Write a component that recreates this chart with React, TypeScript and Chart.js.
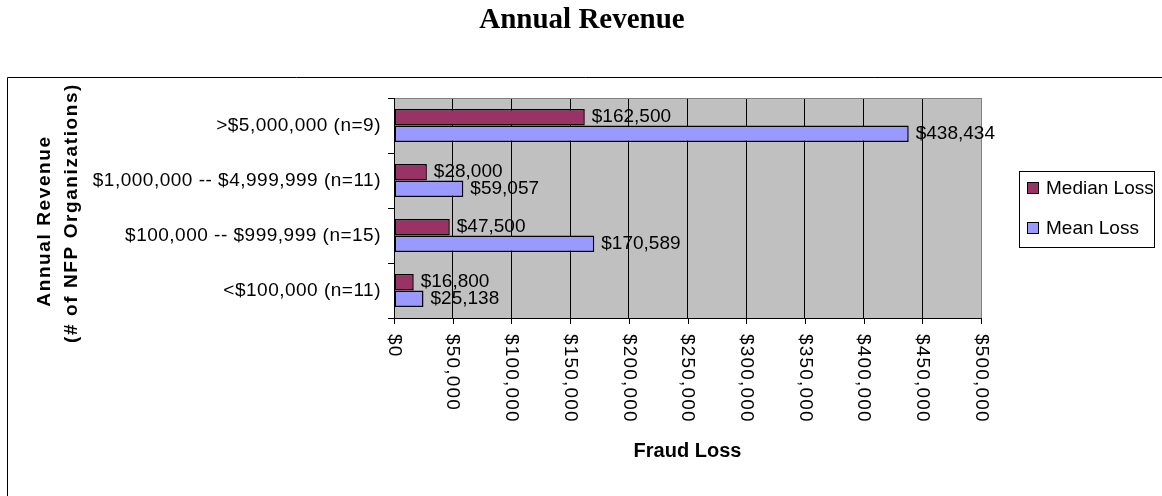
import { useEffect, useRef } from "react";
import { Chart, registerables } from "chart.js";

Chart.register(...registerables);

const chartTitle = "Annual Revenue";
const yTitleLines = ["Annual Revenue", "(# of NFP Organizations)"];
const xTitle = "Fraud Loss";
const categories = [
  ">$5,000,000 (n=9)",
  "$1,000,000 -- $4,999,999 (n=11)",
  "$100,000 -- $999,999 (n=15)",
  "<$100,000 (n=11)",
];
const seriesNames = ["Median Loss", "Mean Loss"];
const medianLoss = [162500, 28000, 47500, 16800];
const meanLoss = [438434, 59057, 170589, 25138];
const xTickValues = [0, 50000, 100000, 150000, 200000, 250000, 300000, 350000, 400000, 450000, 500000];
const seriesColors = ["#993366", "#9999FF"];

const SANS = '"Liberation Sans", Arial, sans-serif';
const SERIF = '"Liberation Serif", "Times New Roman", serif';

const money = (v: number) => "$" + String(v).replace(/\B(?=(\d{3})+(?!\d))/g, ",");

const decor = {
  id: "decor",
  beforeDraw(chart: any) {
    const { ctx, chartArea: a } = chart;
    ctx.save();
    ctx.fillStyle = "#ffffff";
    ctx.fillRect(0, 0, chart.width, chart.height);
    ctx.fillStyle = "#C0C0C0";
    ctx.fillRect(a.left, a.top, a.right - a.left, a.bottom - a.top);
    ctx.restore();
  },
  afterDraw(chart: any) {
    const { ctx, chartArea: a } = chart;
    const xs = chart.scales.x;
    const ys = chart.scales.y;
    ctx.save();
    ctx.lineWidth = 1;

    // outer frame
    ctx.strokeStyle = "#000";
    ctx.beginPath();
    ctx.moveTo(7.5, chart.height + 5);
    ctx.lineTo(7.5, 77.5);
    ctx.lineTo(chart.width + 5, 77.5);
    ctx.stroke();

    // plot border top/right
    ctx.strokeStyle = "#808080";
    ctx.beginPath();
    ctx.moveTo(a.left, a.top + 0.5);
    ctx.lineTo(a.right + 0.5, a.top + 0.5);
    ctx.lineTo(a.right + 0.5, a.bottom);
    ctx.stroke();

    // axes
    ctx.strokeStyle = "#000";
    ctx.beginPath();
    ctx.moveTo(a.left + 0.5, a.top);
    ctx.lineTo(a.left + 0.5, a.bottom + 0.5);
    ctx.moveTo(a.left - 6, a.bottom + 0.5);
    ctx.lineTo(a.right + 1, a.bottom + 0.5);
    const band = (a.bottom - a.top) / categories.length;
    for (let i = 0; i <= categories.length; i++) {
      const y = Math.round(a.top + i * band) + 0.5;
      ctx.moveTo(a.left - 6, y);
      ctx.lineTo(a.left + 1, y);
    }
    xTickValues.forEach((v) => {
      const x = Math.round(xs.getPixelForValue(v)) + 0.5;
      ctx.moveTo(x, a.bottom);
      ctx.lineTo(x, a.bottom + 6);
    });
    ctx.stroke();

    ctx.fillStyle = "#000";

    // y category labels
    ctx.font = `19px ${SANS}`;
    (ctx as any).letterSpacing = "0.5px";
    ctx.textAlign = "right";
    ctx.textBaseline = "middle";
    categories.forEach((c, i) => {
      ctx.fillText(c, a.left - 13, ys.getPixelForValue(i));
    });

    // x tick labels rotated clockwise
    (ctx as any).letterSpacing = "1.2px";
    ctx.textAlign = "left";
    xTickValues.forEach((v) => {
      const x = xs.getPixelForValue(v);
      ctx.save();
      ctx.translate(x, a.bottom + 16);
      ctx.rotate(Math.PI / 2);
      ctx.fillText(money(v), 0, 0);
      ctx.restore();
    });

    // data labels
    (ctx as any).letterSpacing = "0px";
    ctx.font = `19px ${SANS}`;
    ctx.textAlign = "left";
    ctx.textBaseline = "middle";
    [medianLoss, meanLoss].forEach((vals, di) => {
      const meta = chart.getDatasetMeta(di);
      vals.forEach((v, j) => {
        const el = meta.data[j];
        ctx.fillText(money(v), el.x + 7, el.y);
      });
    });

    // chart title
    ctx.font = `bold 29px ${SERIF}`;
    ctx.textAlign = "center";
    ctx.textBaseline = "alphabetic";
    ctx.fillText(chartTitle, 582, 28);

    // x axis title
    ctx.font = `bold 20px ${SANS}`;
    ctx.textBaseline = "middle";
    ctx.fillText(xTitle, (a.left + a.right) / 2, 451);

    // y axis title
    ctx.font = `bold 19px ${SANS}`;
    (ctx as any).letterSpacing = "1.6px";
    const yCenters = [221, 213];
    const xPos = [45, 72];
    yTitleLines.forEach((t, i) => {
      ctx.save();
      ctx.translate(xPos[i], yCenters[i]);
      ctx.rotate(-Math.PI / 2);
      ctx.textAlign = "center";
      ctx.textBaseline = "middle";
      ctx.fillText(t, 0, 0);
      ctx.restore();
    });
    (ctx as any).letterSpacing = "0px";

    // legend
    ctx.strokeStyle = "#000";
    ctx.strokeRect(1019.5, 171.5, 135, 76);
    const ly = [188, 228];
    ctx.font = `19px ${SANS}`;
    ctx.textAlign = "left";
    ctx.textBaseline = "middle";
    seriesNames.forEach((n, i) => {
      ctx.fillStyle = seriesColors[i];
      ctx.fillRect(1027, ly[i] - 6, 12, 12);
      ctx.strokeStyle = "#000";
      ctx.strokeRect(1027.5, ly[i] - 5.5, 11, 11);
      ctx.fillStyle = "#000";
      ctx.fillText(n, 1046, ly[i] + 1);
    });

    ctx.restore();
  },
};

export default function App() {
  const ref = useRef<HTMLCanvasElement | null>(null);
  useEffect(() => {
    if (!ref.current) return;
    const chart = new Chart(ref.current, {
      type: "bar",
      data: {
        labels: categories,
        datasets: [
          {
            label: seriesNames[0],
            data: medianLoss,
            backgroundColor: seriesColors[0],
            borderColor: "#000",
            borderWidth: 1.5,
            borderSkipped: false,
            barPercentage: 1,
            categoryPercentage: 0.6,
          },
          {
            label: seriesNames[1],
            data: meanLoss,
            backgroundColor: seriesColors[1],
            borderColor: "#000",
            borderWidth: 1.5,
            borderSkipped: false,
            barPercentage: 1,
            categoryPercentage: 0.6,
          },
        ],
      },
      options: {
        indexAxis: "y",
        animation: false,
        responsive: false,
        devicePixelRatio: 1,
        layout: { padding: { left: 394, right: 181, top: 98, bottom: 178 } },
        plugins: {
          legend: { display: false },
          title: { display: false },
          tooltip: { enabled: false },
        },
        scales: {
          x: {
            type: "linear",
            min: 0,
            max: 500000,
            afterBuildTicks: (s: any) => {
              s.ticks = xTickValues.map((v) => ({ value: v }));
            },
            ticks: { display: false },
            border: { display: false },
            grid: {
              drawTicks: false,
              color: (c: any) => (c.tick && c.tick.value === 500000 ? "#808080" : "#000"),
              lineWidth: 1,
            },
          },
          y: {
            type: "category",
            ticks: { display: false },
            border: { display: false },
            grid: { display: false, drawTicks: false },
          },
        },
      },
      plugins: [decor],
    } as any);
    return () => chart.destroy();
  }, []);
  return (
    <div style={{ position: "absolute", left: 0, top: 0, width: 1162, height: 496 }}>
      <canvas ref={ref} width={1162} height={496} style={{ display: "block" }} />
    </div>
  );
}
